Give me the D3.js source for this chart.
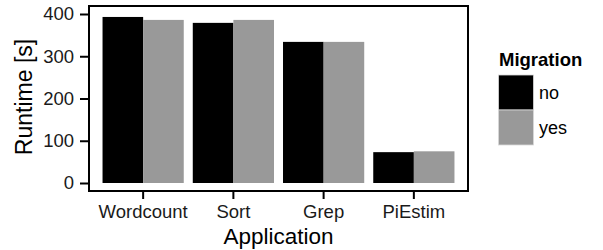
<!DOCTYPE html>
<html><head><meta charset="utf-8">
<script src="https://cdn.jsdelivr.net/npm/d3@7"></script>
<style>body{margin:0;background:#fff}text{font-family:"Liberation Sans",Arial,sans-serif}</style>
</head><body>
<svg id="c" width="603" height="250"></svg>
<script>
const categories = ["Wordcount","Sort","Grep","PiEstim"];
const seriesNames = ["no","yes"];
const noValues = [393, 379, 334, 73];
const yesValues = [386, 386, 334, 75];
const yTicks = [0,100,200,300,400];
const colors = {no:"#000000", yes:"#999999"};

const svg = d3.select("#c");
const panel = {x0:89, x1:468, y0:6, y1:191};
const x = d3.scaleBand().domain(categories).range([panel.x0, panel.x1]).paddingInner(0.1).paddingOuter(0.15);
const xs = d3.scaleBand().domain(seriesNames).range([0, x.bandwidth()]);
const y = d3.scaleLinear().domain([0,400]).range([183,14]);

const data = categories.map((c,i)=>({cat:c, no:noValues[i], yes:yesValues[i]}));
svg.append("g").selectAll("g").data(data).join("g")
  .attr("transform", d=>`translate(${x(d.cat)},0)`)
  .selectAll("rect").data(d=>seriesNames.map(s=>({s, v:d[s]}))).join("rect")
  .attr("x", d=>xs(d.s)).attr("width", xs.bandwidth())
  .attr("y", d=>y(d.v)).attr("height", d=>y(0)-y(d.v))
  .attr("fill", d=>colors[d.s]);

svg.append("rect").attr("x",panel.x0).attr("y",panel.y0)
  .attr("width",panel.x1-panel.x0).attr("height",panel.y1-panel.y0)
  .attr("fill","none").attr("stroke","#000").attr("stroke-width",2);

const yAxis = svg.append("g").attr("transform",`translate(${panel.x0-1},0)`)
  .call(d3.axisLeft(y).tickValues(yTicks).tickSize(8).tickPadding(6));
yAxis.select(".domain").remove();
yAxis.selectAll("line").attr("stroke","#000").attr("stroke-width",2);
yAxis.selectAll("text").attr("font-size",18.5).attr("fill","#1a1a1a")
  .attr("font-family","Liberation Sans, Arial, sans-serif");

const xAxis = svg.append("g").attr("transform",`translate(0,${panel.y1+1})`)
  .call(d3.axisBottom(x).tickSize(7).tickPadding(6));
xAxis.select(".domain").remove();
xAxis.selectAll("line").attr("stroke","#000").attr("stroke-width",2);
xAxis.selectAll("text").attr("font-size",18.5).attr("fill","#1a1a1a")
  .attr("font-family","Liberation Sans, Arial, sans-serif");

svg.append("text").attr("x",(panel.x0+panel.x1)/2).attr("y",244)
  .attr("text-anchor","middle").attr("font-size",22.5).text("Application");
svg.append("text").attr("transform",`translate(32,97) rotate(-90)`)
  .attr("text-anchor","middle").attr("font-size",23).text("Runtime [s]");

const leg = svg.append("g");
leg.append("text").attr("x",499).attr("y",66).attr("font-size",18.5).attr("font-weight","bold").text("Migration");
seriesNames.forEach((s,i)=>{
  leg.append("rect").attr("x",498.5).attr("y",75+i*35).attr("width",35).attr("height",35)
    .attr("fill",colors[s]).attr("stroke","#d9d9d9").attr("stroke-width",0.8);
  leg.append("text").attr("x",539).attr("y",75+i*35+23.5).attr("font-size",18).text(s);
});
</script>
</body></html>
